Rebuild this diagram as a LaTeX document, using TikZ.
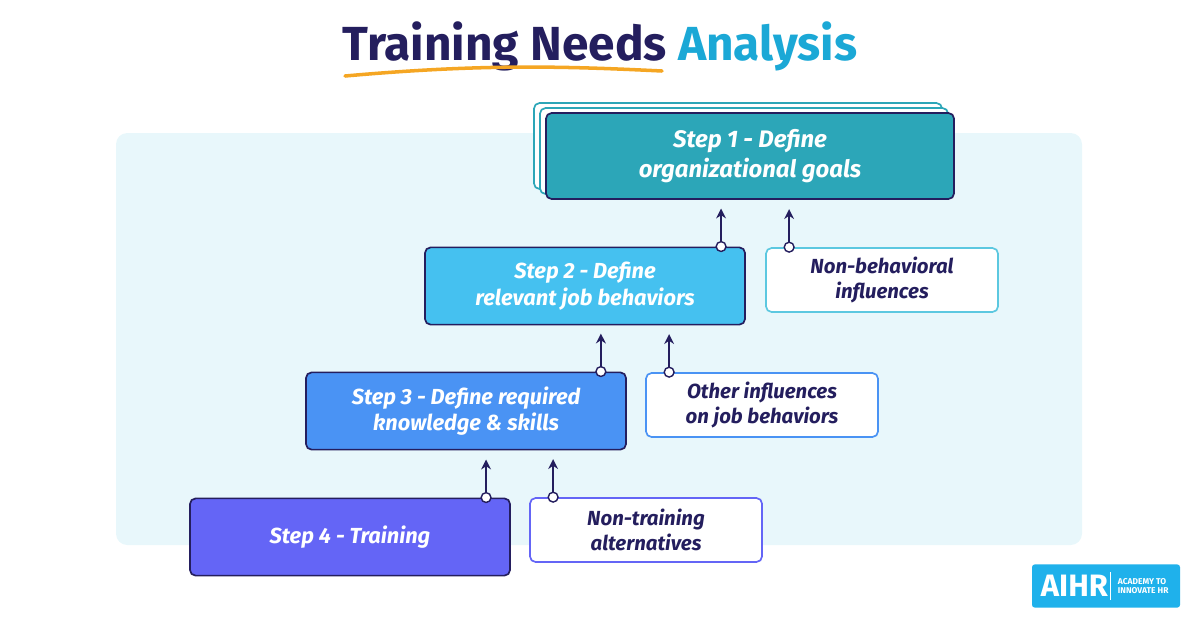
\documentclass[tikz,border=0pt]{standalone}
\usepackage{fontspec}
\setmainfont{Fira Sans}
\usetikzlibrary{arrows.meta,positioning}
\definecolor{navy}{HTML}{241E5E}
\definecolor{titlecyan}{HTML}{1BA8D6}
\definecolor{bgcyan}{HTML}{E8F7FB}
\definecolor{stepone}{HTML}{2CA6B8}
\definecolor{steptwo}{HTML}{45C1F0}
\definecolor{stepthree}{HTML}{4A93F4}
\definecolor{stepfour}{HTML}{6465F6}
\definecolor{lineone}{HTML}{5CC8E0}
\definecolor{logoblue}{HTML}{1FB1EB}
\definecolor{underorange}{HTML}{F5A623}

\begin{document}
\begin{tikzpicture}[
    x=0.025cm, y=-0.025cm,
    >={Stealth[length=7pt,width=7pt]},
    every node/.style={font=\fontsize{15.5}{19}\selectfont\bfseries\itshape},
    stepbox/.style={
        rectangle,
        rounded corners=4pt,
        draw=navy,
        line width=1.2pt,
        text=white,
        align=center,
        minimum width=8cm,
        minimum height=1.93cm
    },
    other/.style={
        rectangle,
        rounded corners=4pt,
        fill=white,
        line width=1.2pt,
        text=navy,
        align=center,
        minimum width=5.8cm,
        minimum height=1.6cm,
        font=\fontsize{14.5}{17.5}\selectfont\bfseries\itshape
    },
    dot/.style={circle, draw=navy, fill=white, line width=1pt, inner sep=0pt, minimum size=7pt},
    arrow/.style={->, navy, line width=1.3pt}
]
    \useasboundingbox (0,0) rectangle (1200,627);

    % === TITLE ===
    \node[font=\fontsize{34}{40}\selectfont\bfseries, anchor=base] (title) at (600,60)
        {\textcolor{navy}{Training Needs} \textcolor{titlecyan}{Analysis}};
    \draw[underorange, line width=2.5pt, line cap=round] (345,76) .. controls (480,64) and (560,66) .. (662,71);

    % === BACKGROUND ===
    \fill[bgcyan, rounded corners=8pt] (116,133) rectangle (1082,545);

    % === STEP 1 (stacked) ===
    \node[stepbox, fill=white, draw=stepone, minimum width=10.2cm, minimum height=2.15cm] (back2) at (738,146) {};
    \node[stepbox, fill=white, draw=stepone, minimum width=10.2cm, minimum height=2.15cm] (back1) at (744,151) {};
    \node[stepbox, fill=stepone, minimum width=10.2cm, minimum height=2.15cm, font=\fontsize{17}{21}\selectfont\bfseries\itshape] (step1) at (750,156)
        {Step 1 - Define\\organizational goals};

    % === STEP 2 ===
    \node[stepbox, fill=steptwo] (step2) at (585,286) {Step 2 - Define\\relevant job behaviors};
    \node[other, draw=lineone] (nonbehav) at (882,280) {Non-behavioral\\influences};

    % === STEP 3 ===
    \node[stepbox, fill=stepthree] (step3) at (466,411) {Step 3 - Define required\\knowledge \& skills};
    \node[other, draw=stepthree] (otherinf) at (762,405) {Other influences\\on job behaviors};

    % === STEP 4 ===
    \node[stepbox, fill=stepfour] (step4) at (350,537) {Step 4 - Training};
    \node[other, draw=stepfour] (nontrain) at (646,530) {Non-training\\alternatives};

    % Connectors
    \coordinate (a1) at ([xshift=-0.62cm]step2.north east);
    \coordinate (b1) at ([xshift=0.6cm]nonbehav.north west);
    \coordinate (a2) at ([xshift=-0.65cm]step3.north east);
    \coordinate (b2) at ([xshift=0.6cm]otherinf.north west);
    \coordinate (a3) at ([xshift=-0.62cm]step4.north east);
    \coordinate (b3) at ([xshift=0.6cm]nontrain.north west);

    \draw[arrow] (a1) -- ++(0,-38);
    \draw[arrow] (b1) -- ++(0,-38);
    \draw[arrow] (a2) -- ++(0,-38);
    \draw[arrow] (b2) -- ++(0,-38);
    \draw[arrow] (a3) -- ++(0,-38);
    \draw[arrow] (b3) -- ++(0,-38);
    \foreach \c in {a1,b1,a2,b2,a3,b3}
        \node[dot] at (\c) {};

    % === LOGO ===
    \node[fill=logoblue, rounded corners=2pt, minimum width=3.7cm, minimum height=1.08cm] (logo) at (1106,586) {};
    \node[text=white, font=\fontsize{22}{22}\selectfont\bfseries, anchor=west] (aihr) at (1036,586) {AIHR};
    \draw[white, line width=0.6pt] (1110,572) -- (1110,600);
    \node[text=white, font=\fontsize{6}{7}\selectfont\bfseries, align=left, anchor=west] (academy) at (1113,586) {ACADEMY TO\\INNOVATE HR};
\end{tikzpicture}
\end{document}
